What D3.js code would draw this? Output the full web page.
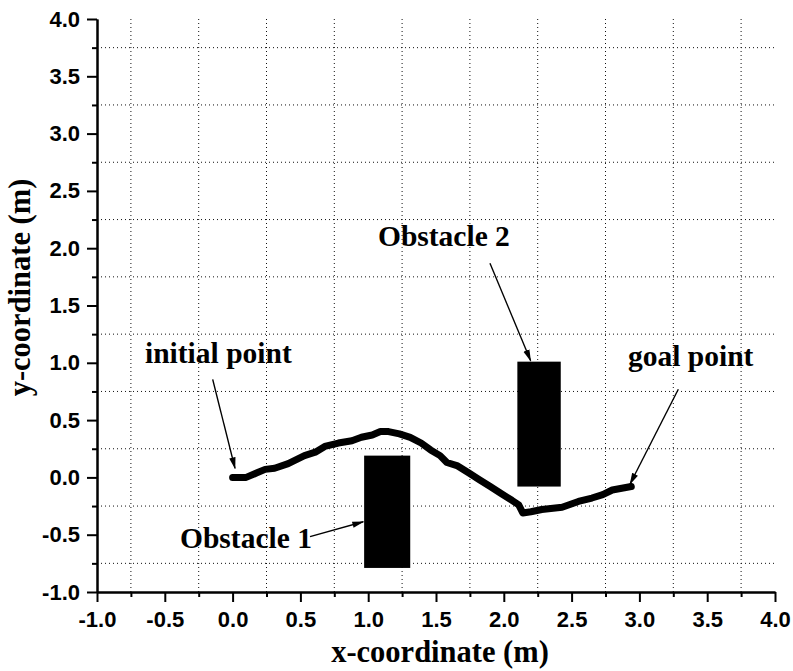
<!DOCTYPE html>
<html>
<head>
<meta charset="utf-8">
<script src="https://cdn.jsdelivr.net/npm/d3@7"></script>
<style>
  html, body { margin: 0; padding: 0; background: #fff; }
  svg { display: block; }
</style>
</head>
<body>
<svg id="chart" width="793" height="671"></svg>
<script>
// ---- data ----
const xMajorTicks = [-1.0, -0.5, 0.0, 0.5, 1.0, 1.5, 2.0, 2.5, 3.0, 3.5, 4.0];
const yMajorTicks = [-1.0, -0.5, 0.0, 0.5, 1.0, 1.5, 2.0, 2.5, 3.0, 3.5, 4.0];
const xMinorTicks = [-0.75, -0.25, 0.25, 0.75, 1.25, 1.75, 2.25, 2.75, 3.25, 3.75];
const yMinorTicks = [-0.75, -0.25, 0.25, 0.75, 1.25, 1.75, 2.25, 2.75, 3.25, 3.75];

const pathX = [0.00, 0.10, 0.18, 0.24, 0.31, 0.41, 0.53, 0.61, 0.68, 0.78, 0.88, 0.95, 1.03, 1.09, 1.15,
               1.23, 1.31, 1.39, 1.46, 1.53, 1.58, 1.66, 1.74, 1.82, 1.90, 1.98, 2.06, 2.11, 2.14,
               2.20, 2.28, 2.43, 2.55, 2.65, 2.73, 2.80, 2.94];
const pathY = [0.00, 0.00, 0.04, 0.07, 0.08, 0.12, 0.19, 0.22, 0.27, 0.30, 0.32, 0.35, 0.37, 0.40, 0.40,
               0.38, 0.35, 0.30, 0.24, 0.19, 0.13, 0.10, 0.04, -0.02, -0.08, -0.14, -0.20, -0.24, -0.31,
               -0.30, -0.28, -0.26, -0.21, -0.18, -0.15, -0.11, -0.08];

const obstacleNames = ["Obstacle 1", "Obstacle 2"];
const obstacleX0 = [0.97, 2.10];
const obstacleX1 = [1.31, 2.42];
const obstacleY0 = [-0.79, -0.08];
const obstacleY1 = [0.19, 1.01];

const labelTexts = ["initial point", "Obstacle 1", "Obstacle 2", "goal point"];
const labelX = [-0.646, -0.388, 1.072, 2.916];
const labelY = [0.998, -0.616, 2.019, 0.972];
const arrowFromX = [-0.147, 0.571, 1.898, 3.287];
const arrowFromY = [0.856, -0.517, 1.868, 0.769];
const arrowToX = [0.018, 0.964, 2.198, 2.931];
const arrowToY = [0.079, -0.387, 1.018, -0.058];

// ---- layout ----
const mLeft = 97, mRight = 775, mTop = 19, mBottom = 592;
const svg = d3.select("#chart");
const x = d3.scaleLinear().domain([-1, 4]).range([mLeft, mRight]);
const y = d3.scaleLinear().domain([-1, 4]).range([mBottom, mTop]);

// grid (dotted at minor positions)
const grid = svg.append("g");
grid.selectAll("line.gx").data(xMinorTicks).enter().append("line")
  .attr("x1", d => x(d)).attr("x2", d => x(d))
  .attr("y1", mTop).attr("y2", mBottom)
  .attr("stroke", "#111").attr("stroke-width", 1).attr("stroke-dasharray", "1,3");
grid.selectAll("line.gy").data(yMinorTicks).enter().append("line")
  .attr("y1", d => y(d)).attr("y2", d => y(d))
  .attr("x1", mLeft).attr("x2", mRight)
  .attr("stroke", "#111").attr("stroke-width", 1).attr("stroke-dasharray", "1,3");

// obstacles
svg.selectAll("rect.obs").data(obstacleNames).enter().append("rect")
  .attr("x", (d, i) => x(obstacleX0[i]))
  .attr("y", (d, i) => y(obstacleY1[i]))
  .attr("width", (d, i) => x(obstacleX1[i]) - x(obstacleX0[i]))
  .attr("height", (d, i) => y(obstacleY0[i]) - y(obstacleY1[i]))
  .attr("fill", "#000");

// trajectory
const pts = pathX.map((v, i) => [v, pathY[i]]);
svg.append("path")
  .attr("d", d3.line().x(d => x(d[0])).y(d => y(d[1]))(pts))
  .attr("fill", "none").attr("stroke", "#000")
  .attr("stroke-width", 7).attr("stroke-linecap", "round").attr("stroke-linejoin", "round");

// arrow marker
svg.append("defs").append("marker")
  .attr("id", "ah").attr("markerUnits", "userSpaceOnUse")
  .attr("markerWidth", 12).attr("markerHeight", 8)
  .attr("viewBox", "0 -4 12 8").attr("refX", 11).attr("refY", 0)
  .attr("orient", "auto")
  .append("path").attr("d", "M0,-3.2L12,0L0,3.2Z").attr("fill", "#000");

svg.selectAll("line.arrow").data(labelTexts).enter().append("line")
  .attr("x1", (d, i) => x(arrowFromX[i])).attr("y1", (d, i) => y(arrowFromY[i]))
  .attr("x2", (d, i) => x(arrowToX[i])).attr("y2", (d, i) => y(arrowToY[i]))
  .attr("stroke", "#000").attr("stroke-width", 1.4)
  .attr("marker-end", "url(#ah)");

svg.selectAll("text.lab").data(labelTexts).enter().append("text")
  .attr("x", (d, i) => x(labelX[i])).attr("y", (d, i) => y(labelY[i]))
  .attr("font-family", "'Liberation Serif', 'Times New Roman', serif")
  .attr("font-weight", "bold").attr("font-size", 29.5)
  .attr("fill", "#000")
  .text(d => d);

// axes
const fmt = d => d3.format(".1f")(d).replace("\u2212", "-");
const xAxis = svg.append("g").attr("transform", `translate(0,${mBottom})`)
  .call(d3.axisBottom(x).tickValues(xMajorTicks).tickFormat(fmt).tickSize(10).tickSizeOuter(0).tickPadding(9));
const xMinor = svg.append("g").attr("transform", `translate(0,${mBottom})`)
  .call(d3.axisBottom(x).tickValues(xMinorTicks).tickFormat("").tickSize(5).tickSizeOuter(0));
const yAxis = svg.append("g").attr("transform", `translate(${mLeft},0)`)
  .call(d3.axisLeft(y).tickValues(yMajorTicks).tickFormat(fmt).tickSize(10).tickSizeOuter(0).tickPadding(7));
const yMinor = svg.append("g").attr("transform", `translate(${mLeft},0)`)
  .call(d3.axisLeft(y).tickValues(yMinorTicks).tickFormat("").tickSize(5).tickSizeOuter(0));

[xAxis, xMinor, yAxis, yMinor].forEach(g => {
  g.selectAll("path.domain").attr("stroke", "#000").attr("stroke-width", 2);
  g.selectAll(".tick line").attr("stroke", "#000").attr("stroke-width", 2);
  g.selectAll("text")
    .attr("font-family", "'Liberation Sans', Arial, sans-serif")
    .attr("font-weight", "bold").attr("font-size", 22).attr("fill", "#000");
});

// axis titles
svg.append("text")
  .attr("x", (mLeft + mRight) / 2 + 4).attr("y", 662)
  .attr("text-anchor", "middle")
  .attr("font-family", "'Liberation Serif', 'Times New Roman', serif")
  .attr("font-weight", "bold").attr("font-size", 30.5)
  .text("x-coordinate (m)");
svg.append("text")
  .attr("transform", `translate(30,${(mTop + mBottom) / 2 - 18}) rotate(-90)`)
  .attr("text-anchor", "middle")
  .attr("font-family", "'Liberation Serif', 'Times New Roman', serif")
  .attr("font-weight", "bold").attr("font-size", 30.5)
  .text("y-coordinate (m)");
</script>
</body>
</html>
